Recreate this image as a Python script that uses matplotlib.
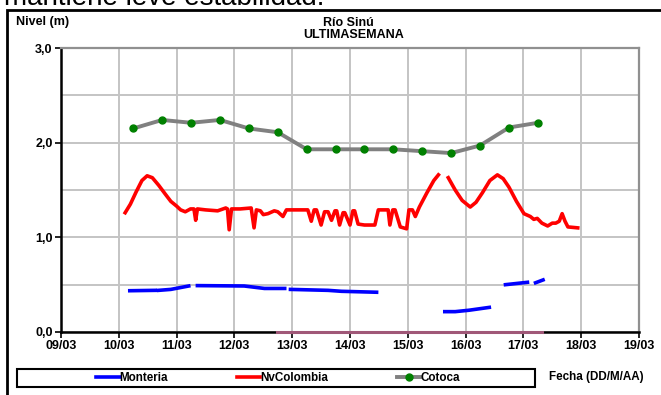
import numpy as np
import matplotlib
matplotlib.use('Agg')
import matplotlib.pyplot as plt
from matplotlib.ticker import MultipleLocator, FixedLocator

plt.rcParams['font.family'] = ['Liberation Sans', 'DejaVu Sans']

# dias de marzo (fraccion = hora del dia)
dias_ticks = [9, 10, 11, 12, 13, 14, 15, 16, 17, 18, 19]
etiquetas_x = ['09/03', '10/03', '11/03', '12/03', '13/03', '14/03',
               '15/03', '16/03', '17/03', '18/03', '19/03']

monteria_x = [10.19, 10.63, np.nan, 10.69, 10.90, 11.21, np.nan, 11.36, 12.17,
              12.52, 12.87, np.nan, 12.97, 13.62, 13.85, 14.46, np.nan,
              15.64, 15.82, 16.06, 16.41, np.nan, 16.69, 17.07, np.nan,
              17.21, 17.34]
monteria_y = [0.436, 0.44, np.nan, 0.44, 0.45, 0.486, np.nan, 0.49, 0.486,
              0.46, 0.46, np.nan, 0.45, 0.44, 0.43, 0.42, np.nan,
              0.215, 0.215, 0.23, 0.26, np.nan, 0.50, 0.525, np.nan,
              0.52, 0.55]

nvcol_x = [10.11, 10.20, 10.30, 10.40, 10.49, 10.58, 10.69, 10.80, 10.90, 11.00,
           11.07, 11.15, 11.24, 11.30, 11.33, 11.36, 11.50, 11.71, 11.85, 11.88,
           11.91, 11.95, 12.10, 12.29, 12.34, 12.38, 12.45, 12.50, 12.58, 12.69,
           12.75, 12.84, 12.90, 13.10, 13.27, 13.33, 13.38, 13.42, 13.50, 13.56,
           13.62, 13.68, 13.74, 13.77, 13.82, 13.88, 13.91, 14.00, 14.05, 14.08,
           14.14, 14.25, 14.43, 14.49, 14.66, 14.69, 14.74, 14.78, 14.87, 14.98,
           15.02, 15.08, 15.13, 15.20, 15.33, 15.45, 15.53, np.nan,
           15.70, 15.82, 15.94, 16.08, 16.18, 16.29, 16.42, 16.55, 16.65, 16.75,
           16.88, 17.01, 17.12, 17.18, 17.24, 17.32, 17.42, 17.50, 17.56, 17.62,
           17.67, 17.72, 17.77, 17.94]
nvcol_y = [1.26, 1.35, 1.48, 1.60, 1.65, 1.63, 1.55, 1.46, 1.38, 1.33,
           1.29, 1.27, 1.30, 1.30, 1.18, 1.30, 1.29, 1.28, 1.31, 1.30,
           1.08, 1.30, 1.30, 1.31, 1.10, 1.29, 1.28, 1.24, 1.25, 1.28,
           1.27, 1.22, 1.29, 1.29, 1.29, 1.17, 1.29, 1.29, 1.13, 1.27,
           1.27, 1.18, 1.28, 1.28, 1.13, 1.26, 1.26, 1.13, 1.28, 1.28,
           1.14, 1.13, 1.13, 1.29, 1.29, 1.13, 1.29, 1.29, 1.11, 1.09,
           1.29, 1.29, 1.22, 1.32, 1.47, 1.60, 1.66, np.nan,
           1.63, 1.50, 1.39, 1.32, 1.37, 1.47, 1.60, 1.66, 1.62, 1.53,
           1.38, 1.25, 1.22, 1.19, 1.20, 1.15, 1.12, 1.15, 1.15, 1.17,
           1.25, 1.17, 1.11, 1.10]

cotoca_x = [10.25, 10.75, 11.25, 11.75, 12.25, 12.75, 13.25, 13.75,
            14.25, 14.75, 15.25, 15.75, 16.25, 16.75, 17.25]
cotoca_y = [2.15, 2.24, 2.21, 2.24, 2.15, 2.11, 1.93, 1.93,
            1.93, 1.93, 1.91, 1.89, 1.97, 2.16, 2.21]

# serie sin leyenda pegada al cero
cero_x = [12.74, 17.32]
cero_y = [0.0, 0.0]

fig = plt.figure(figsize=(6.61, 3.95), dpi=100)
ax = fig.add_axes([61 / 661, 1 - 332 / 395, 578 / 661, 284 / 395])

ax.plot(monteria_x, monteria_y, color='#0000ff', lw=2.6, label='Monteria', zorder=3)
ax.plot(nvcol_x, nvcol_y, color='#ff0000', lw=2.6, label='NvColombia', zorder=3)
ax.plot(cotoca_x, cotoca_y, color='#808080', lw=2.8, marker='o', ms=5,
        mfc='#008000', mec='#008000', label='Cotoca', zorder=4)
ax.plot(cero_x, cero_y, color='#a05878', lw=2.2, zorder=5, clip_on=False)

ax.set_xlim(9, 19)
ax.set_ylim(0, 3)
ax.xaxis.set_major_locator(FixedLocator(dias_ticks))
ax.set_xticklabels(etiquetas_x)
ax.yaxis.set_minor_locator(MultipleLocator(0.5))
ax.yaxis.set_major_locator(FixedLocator([0, 1, 2, 3]))
ax.set_yticklabels(['0,0', '1,0', '2,0', '3,0'])

ax.grid(True, which='both', color='#c4c4c4', lw=1.4)
ax.set_axisbelow(True)
ax.tick_params(which='minor', length=0)
ax.tick_params(which='major', length=4, width=1.2, direction='out', pad=2,
               labelsize=9)
for lab in ax.get_xticklabels() + ax.get_yticklabels():
    lab.set_fontweight('bold')

for s in ['left', 'bottom']:
    ax.spines[s].set_color('black')
    ax.spines[s].set_linewidth(1.8)
for s in ['top', 'right']:
    ax.spines[s].set_color('#909090')
    ax.spines[s].set_linewidth(1.6)

# textos
fig.text(348 / 661, 1 - 23 / 395, 'Río Sinú', ha='center', va='center',
         fontsize=9, fontweight='bold')
fig.text(354 / 661, 1 - 35 / 395, 'ULTIMASEMANA', ha='center', va='center',
         fontsize=9, fontweight='bold')
fig.text(16 / 661, 1 - 22 / 395, 'Nivel (m)', ha='left', va='center',
         fontsize=9, fontweight='bold')
fig.text(549 / 661, 1 - 377 / 395, 'Fecha (DD/M/AA)', ha='left', va='center',
         fontsize=8.4, fontweight='bold')
fig.text(4 / 661, 1 - 5 / 395, 'mantiene leve estabilidad.', ha='left',
         va='baseline', fontsize=20)

# marco exterior
fig.add_artist(plt.Rectangle((7 / 661, -0.05), 1.0, 1 - 10 / 395 + 0.05,
                             transform=fig.transFigure, fill=False,
                             ec='black', lw=2))
# marco de la leyenda
fig.add_artist(plt.Rectangle((17 / 661, 1 - 387 / 395), 518 / 661, 18 / 395,
                             transform=fig.transFigure, fill=False,
                             ec='black', lw=1.5))

leg = fig.legend(loc='center', bbox_to_anchor=(278 / 661, 1 - 378 / 395),
                 ncol=3, frameon=False, handlelength=2.0,
                 handletextpad=0.0, columnspacing=5.9, borderaxespad=0,
                 borderpad=0, prop={'weight': 'bold', 'size': 8.4})

fig.savefig('out.png', dpi=100)
